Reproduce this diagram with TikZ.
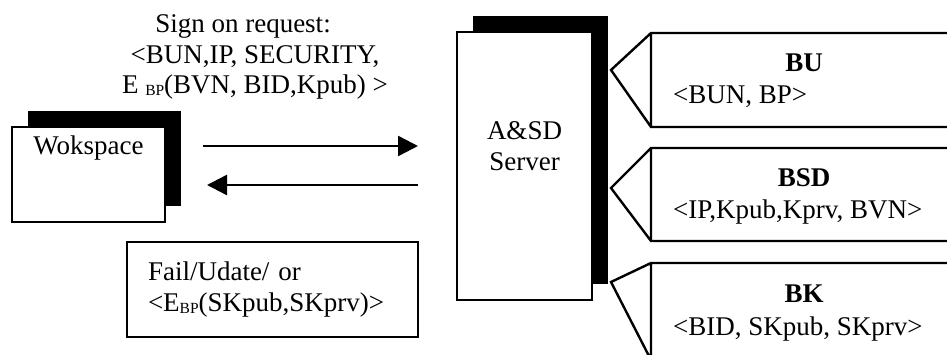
\documentclass[tikz,border=0pt]{standalone}
\usepackage{fontspec}
\setmainfont{Liberation Serif}
\usetikzlibrary{arrows.meta,positioning,shadows}

% small subscript used in the key names
\newcommand{\bpsub}{\raisebox{-2pt}{\fontsize{15.5}{15.5}\selectfont BP}}

\begin{document}
\begin{tikzpicture}[
    x=1pt, y=-1pt,
    font=\fontsize{27}{30.5}\selectfont,
    line width=2.4pt,
    every node/.style={inner sep=0pt},
    shadowbox/.style={draw, rectangle, fill=white,
      drop shadow={shadow xshift=16pt, shadow yshift=16pt, fill=black, opacity=1}},
    msgbox/.style={draw, rectangle, inner xsep=21pt, align=left},
    tabtitle/.style={anchor=base, font=\fontsize{27}{30.5}\selectfont\bfseries},
    tabentry/.style={anchor=base west},
    flow/.style={-{Triangle[length=20pt, width=20pt]}},
  ]
    \clip (0,0) rectangle (947,355);

    % Nodes
    \node[shadowbox, minimum width=153pt, minimum height=95pt] (ws) at (88.5,174.5) {};
    \node[below=8.8pt of ws.north] (wslbl) {Wokspace};

    \node[shadowbox, minimum width=135pt, minimum height=268pt] (srv) at (524.5,166) {};
    \node[align=center, below=90pt of srv.north] (srvlbl) {A\&SD\\Server};

    \node[align=center, anchor=north] (req) at (255,13.6)
      {Sign on request:\hspace*{24pt}\\<BUN,IP, SECURITY,\\E \bpsub(BVN, BID,Kpub) >};
    \node[msgbox, text width=249pt, minimum height=95pt] (fail) at (272.5,289.5)
      {Fail/Udate/ or\\<E\bpsub(SKpub,SKprv)>};

    % Request and reply
    \draw[flow, shorten <=36.8pt, shorten >=37.8pt] ([yshift=28.5pt]ws.east) -- ([yshift=20pt]srv.west);
    \draw[flow, shorten <=37.8pt, shorten >=40.8pt] ([yshift=-19pt]srv.west) -- ([yshift=-10.5pt]ws.east);

    % Tables
    \draw (960,33) -- (651,33) -- (611,70) -- (651,127) -- (960,127) (651,33) -- (651,127);
    \draw (960,148) -- (651,148) -- (611,188) -- (651,241) -- (960,241) (651,148) -- (651,241);
    \draw (960,263) -- (651,263) -- (611,282) -- (651,360) -- (960,360) (651,263) -- (651,360);

    \node[tabtitle] (bu) at (804,72) {BU};
    \node[tabentry] (buf) at (672,104) {<BUN, BP>};
    \node[tabtitle] (bsd) at (804,187) {BSD};
    \node[tabentry] (bsdf) at (672,219) {<IP,Kpub,Kprv, BVN>};
    \node[tabtitle] (bk) at (804,302) {BK};
    \node[tabentry] (bkf) at (672,335) {<BID, SKpub, SKprv>};
  \end{tikzpicture}
\end{document}
